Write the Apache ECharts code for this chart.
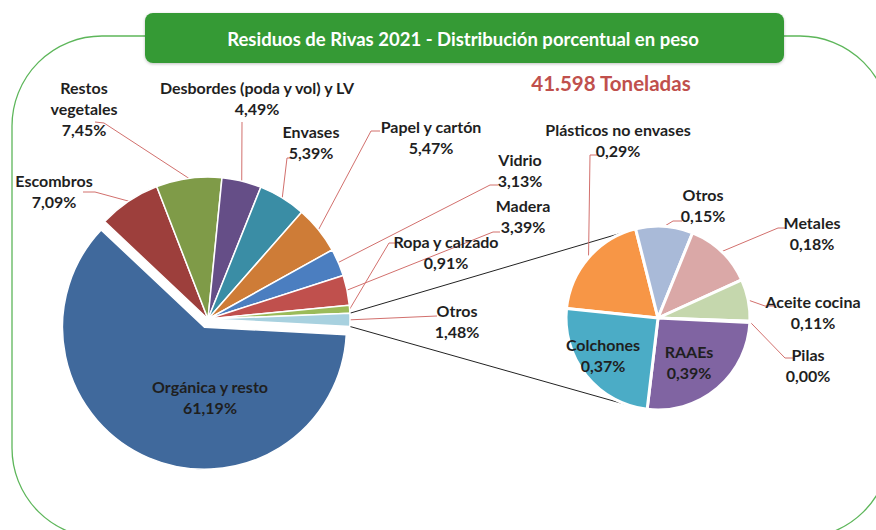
<!DOCTYPE html>
<html><head><meta charset="utf-8">
<script src="https://cdn.jsdelivr.net/npm/echarts@6/dist/echarts.min.js"></script>
<style>html,body{margin:0;padding:0;background:#fff}#c{width:876px;height:530px}</style>
</head><body><div id="c"></div>
<script>
// ---- data ----
const titleText = 'Residuos de Rivas 2021 - Distribución porcentual en peso';
const totalText = '41.598 Toneladas';
const mainNames = ['Orgánica y resto','Escombros','Restos vegetales','Desbordes (poda y vol) y LV','Envases','Papel y cartón','Vidrio','Madera','Ropa y calzado','Otros'];
const mainValues = [61.19, 7.09, 7.45, 4.49, 5.39, 5.47, 3.13, 3.39, 0.91, 1.48];
const subNames = ['Plásticos no envases','Otros','Metales','Aceite cocina','Pilas','RAAEs','Colchones'];
const subValues = [0.29, 0.15, 0.18, 0.11, 0.003, 0.39, 0.37];

// ---- styles / layout ----
const mainColors = ['#40699C','#9D3F3C','#7F9B48','#654E87','#3A8DA5','#CE7C37','#4B7EC0','#C0504D','#9BBB59','#A8D1DF'];
const subColors = ['#F79646','#A9BAD8','#DAA8A7','#C5D7AD','#7F9FD0','#8064A2','#4BACC6'];
const C1 = [208, 319], R1 = 142, START1 = -3, EXPLODE = 9;
const C2 = [658, 318], R2 = 92, START2 = 174;
const SUB_CONNECT = [110, -107];
const FONT = 'Lato';
const mainLabelPos = [[210,397],[54,191],[84,108],[257,98],[311,142],[431,137],[520,170],[523,216],[446,252],[457,321]];
const mainLineTail = [null,[[95,192],[83,192]],[[104,123],[95,122]],[[242,122]],[[287,158],[292,158]],[[371,131],[380,131]],[[490,185],[498,185]],[[493,232],[500,232]],[[389,243],[395,243]],[[437,316]]];
const subLabelPos = [[618,140],[703,205],[812,233],[813,312],[808,365],[689,362],[603,355]];
const subLineTail = [[[590,155],[597,155]],[[673,221],[682,221]],[[778,228],[786,228]],[[765,306],[775,306]],[[785,358],[795,358]],null,null];

const fmt = v => v.toFixed(2).replace('.', ',') + '%';
const labelName = n => n === 'Restos vegetales' ? 'Restos\nvegetales' : n;
const CLEAR = 'rgba(0,0,0,0)';

function makeLayout(pos, tails) {
  return function (params) {
    const i = params.dataIndex;
    const out = {x: pos[i][0], y: pos[i][1], align: 'center', verticalAlign: 'middle'};
    if (tails[i] && params.labelLinePoints) {
      out.labelLinePoints = [params.labelLinePoints[0]].concat(tails[i]);
    }
    return out;
  };
}

// main series: organic slice drawn by the exploded series, its label here
const mainData = mainNames.map((n, i) => ({
  name: n, value: mainValues[i],
  itemStyle: i === 0 ? {color: CLEAR, borderWidth: 0} : {color: mainColors[i]},
  labelLine: {show: !!mainLineTail[i]}
}));
const explodeData = mainNames.map((n, i) => ({
  name: n, value: mainValues[i],
  itemStyle: i === 0 ? {color: mainColors[0]} : {color: CLEAR, borderWidth: 0}
}));
const subData = subNames.map((n, i) => ({
  name: n, value: subValues[i], itemStyle: {color: subColors[i]},
  labelLine: {show: !!subLineTail[i]}
}));

// geometry computed from the main pie's angles
const tot1 = mainValues.reduce((a, b) => a + b, 0);
const rad = d => d * Math.PI / 180;
const pt = (c, r, a) => [c[0] + r * Math.cos(rad(a)), c[1] - r * Math.sin(rad(a))];
const orgMid = START1 - mainValues[0] / tot1 * 360 / 2;
const C1x = pt(C1, EXPLODE, orgMid);
let ang = START1;
for (let i = 0; i < mainValues.length - 1; i++) ang -= mainValues[i] / tot1 * 360;
const aTop = ang, aBot = ang - mainValues[mainValues.length - 1] / tot1 * 360;
const m1 = pt(C1, R1, aTop), m2 = pt(C1, R1, aBot);
const s1 = pt(C2, R2, SUB_CONNECT[0]), s2 = pt(C2, R2, SUB_CONNECT[1]);

const labelStyle = {
  fontFamily: FONT, fontWeight: 'bold', fontSize: 16, lineHeight: 21, color: '#1f1f1f'
};

const chart = echarts.init(document.getElementById('c'), null, {renderer: 'svg'});
chart.setOption({
  animation: false,
  backgroundColor: '#ffffff',
  graphic: [
    {type: 'rect', z: 0, shape: {x: 12, y: 36, width: 878, height: 502, r: 90},
     style: {fill: 'none', stroke: '#5DB65A', lineWidth: 1.3}},
    {type: 'rect', z: 1, shape: {x: 145, y: 13, width: 639, height: 50, r: 8},
     style: {fill: '#359A35', shadowBlur: 3, shadowColor: 'rgba(0,0,0,0.25)', shadowOffsetY: 1}},
    {type: 'text', z: 2, x: 463, y: 39,
     style: {text: titleText, fill: '#ffffff', font: 'bold 18.5px ' + FONT, textAlign: 'center', textVerticalAlign: 'middle'}},
    {type: 'text', z: 2, x: 611, y: 83,
     style: {text: totalText, fill: '#C0504D', font: 'bold 20.5px ' + FONT, textAlign: 'center', textVerticalAlign: 'middle'}},
    {type: 'line', z: 1, shape: {x1: m1[0], y1: m1[1], x2: s1[0], y2: s1[1]}, style: {stroke: '#222', lineWidth: 1}},
    {type: 'line', z: 1, shape: {x1: m2[0], y1: m2[1], x2: s2[0], y2: s2[1]}, style: {stroke: '#222', lineWidth: 1}}
  ],
  series: [
    {
      type: 'pie', center: C1x, radius: R1, startAngle: START1, clockwise: true,
      silent: true, emphasis: {disabled: true}, z: 1,
      itemStyle: {borderColor: '#ffffff', borderWidth: 1.5},
      label: {show: false}, labelLine: {show: false},
      data: explodeData
    },
    {
      type: 'pie', center: C1, radius: R1, startAngle: START1, clockwise: true,
      avoidLabelOverlap: false, emphasis: {disabled: true}, z: 2,
      itemStyle: {borderColor: '#ffffff', borderWidth: 1.5},
      label: Object.assign({show: true, formatter: p => labelName(p.name) + '\n' + fmt(p.value)}, labelStyle),
      labelLine: {show: true, length: 10, length2: 10, lineStyle: {color: '#D2706D', width: 1}},
      labelLayout: makeLayout(mainLabelPos, mainLineTail),
      data: mainData
    },
    {
      type: 'pie', center: C2, radius: R2, startAngle: START2, clockwise: true,
      avoidLabelOverlap: false, minShowLabelAngle: 0, emphasis: {disabled: true},
      itemStyle: {borderColor: '#ffffff', borderWidth: 3},
      label: Object.assign({show: true, formatter: p => p.name + '\n' + fmt(p.value)}, labelStyle),
      labelLine: {show: true, length: 10, length2: 10, lineStyle: {color: '#D2706D', width: 1}},
      labelLayout: makeLayout(subLabelPos, subLineTail),
      data: subData
    }
  ]
});
</script>
</body></html>
